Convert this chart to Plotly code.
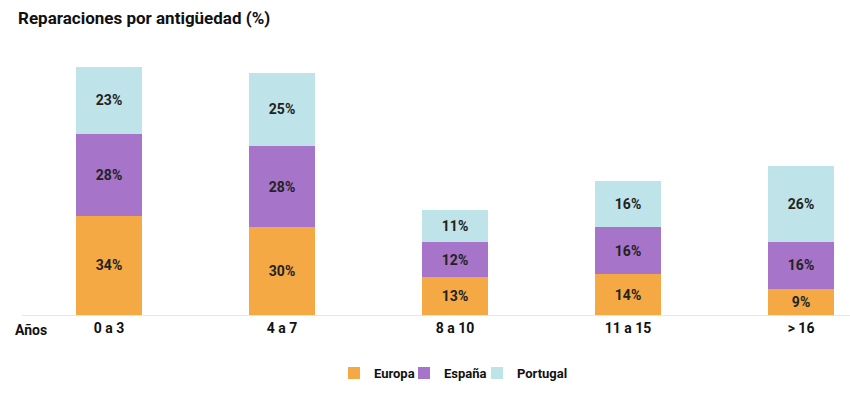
import plotly.graph_objects as go

categories = ["0 a 3", "4 a 7", "8 a 10", "11 a 15", "> 16"]
europa = [34, 30, 13, 14, 9]
espana = [28, 28, 12, 16, 16]
portugal = [23, 25, 11, 16, 26]

series = [
    ("Europa", europa, "#F4A945", 25),
    ("España", espana, "#A674C8", 28),
    ("Portugal", portugal, "#BEE3E9", 50),
]

font_family = "Roboto, Arial, sans-serif"

fig = go.Figure()
for name, vals, color, lw in series:
    fig.add_trace(go.Bar(
        x=categories, y=vals, name=name,
        marker=dict(color=color, line=dict(width=0)),
        texttemplate="%{y}%", textposition="inside",
        insidetextanchor="middle", textangle=0,
        constraintext="none", legendwidth=lw,
        textfont=dict(family=font_family, size=14, color="#222222", weight=700),
        hoverinfo="skip",
    ))

fig.update_layout(
    width=850, height=410,
    barmode="stack", bargap=0.618,
    paper_bgcolor="white", plot_bgcolor="white",
    margin=dict(l=22, r=0, t=40, b=95),
    font=dict(family=font_family, color="#222222"),
    title=dict(text="Reparaciones por antigüedad (%)", x=18/850, xanchor="left",
               y=1 - 18/410, yanchor="middle",
               font=dict(family=font_family, size=17, color="#111111", weight=700)),
    xaxis=dict(type="category", range=[-0.503, 4.283], showline=True, linecolor="#E6E6E6",
               linewidth=1, ticks="", showgrid=False, zeroline=False,
               tickfont=dict(family=font_family, size=14, color="#111111", weight=700)),
    yaxis=dict(range=[0, 94.2], visible=False, showgrid=False, zeroline=False),
    legend=dict(orientation="h", x=0.5205, xanchor="center", y=-0.211, yanchor="middle",
                font=dict(family=font_family, size=13, color="#111111", weight=700),
                traceorder="normal", entrywidthmode="pixels"),
    showlegend=True,
    annotations=[dict(text="Años", xref="paper", yref="paper", x=(31 - 22) / 828, y=0,
                      xanchor="center", yanchor="middle", yshift=-15, showarrow=False,
                      font=dict(family=font_family, size=14, color="#111111", weight=700))],
)

fig.write_html("out.html", config={"displayModeBar": False},
               post_script="document.body.style.margin='0';")
